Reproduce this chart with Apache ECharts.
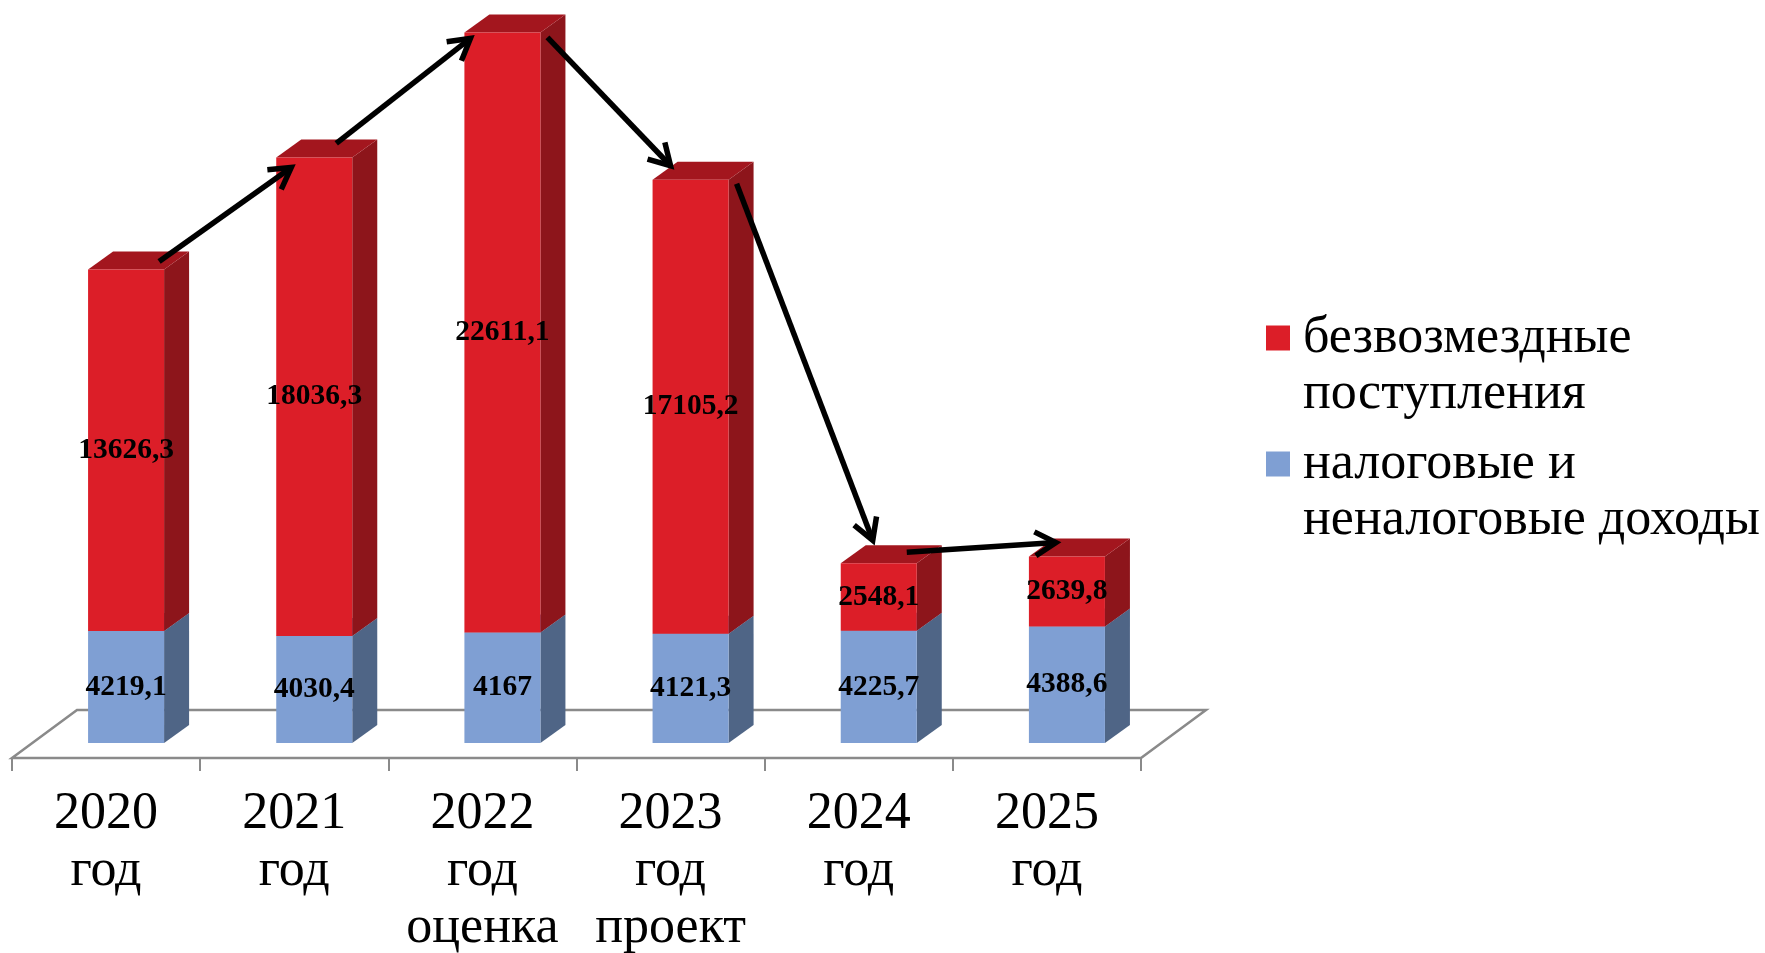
<!DOCTYPE html>
<html>
<head>
<meta charset="utf-8">
<script src="https://cdn.jsdelivr.net/npm/echarts@6/dist/echarts.min.js"></script>
<style>
html,body{margin:0;padding:0;background:#fff;}
#chart{width:1765px;height:953px;}
</style>
</head>
<body>
<div id="chart"></div>
<script>
// ---- data ----
const categories = ['2020\nгод', '2021\nгод', '2022\nгод\nоценка', '2023\nгод\nпроект', '2024\nгод', '2025\nгод'];
const taxIncome = [4219.1, 4030.4, 4167, 4121.3, 4225.7, 4388.6];   // налоговые и неналоговые доходы
const grants = [13626.3, 18036.3, 22611.1, 17105.2, 2548.1, 2639.8]; // безвозмездные поступления
const seriesNames = ['безвозмездные\nпоступления', 'налоговые и\nненалоговые доходы'];
const arrowLinks = [[0, 1], [1, 2], [2, 3], [3, 4], [4, 5]];

// ---- styles ----
const RED = {front: '#DC1E28', side: '#8D151B', top: '#A3161E'};
const BLUE = {front: '#7F9FD3', side: '#4F6586', top: '#6A86B0'};
const DEPTH = [25, -18];
const FLOOR_FRONT = [-20, 15];
const FLOOR_BACK = [45, -33];
// arrow anchor offsets (px) relative to bar top-front corners: [startOffset, endOffset]
const arrowAnchors = [
  [[-5, -8], [15, 10]],
  [[-16, -14], [6, 6]],
  [[7, 5], [18, -14]],
  [[8, 4], [32, -23]],
  [[-10, -11], [27, -14]]
];

function fmt(v) { return String(v).replace('.', ','); }

const blueData = taxIncome.map((v, i) => [i, 0, v]);
const redData = grants.map((v, i) => [i, taxIncome[i], taxIncome[i] + v]);

function barRender(colors, values) {
  return function (params, api) {
    const idx = api.value(0);
    const pb = api.coord([idx, api.value(1)]);
    const pt = api.coord([idx, api.value(2)]);
    const w = api.size([1, 0])[0] * 0.404;
    const x0 = pt[0] - w / 2, x1 = pt[0] + w / 2;
    const yb = pb[1], yt = pt[1];
    const dx = DEPTH[0], dy = DEPTH[1];
    return {
      type: 'group',
      children: [
        {type: 'polygon', shape: {points: [[x1, yb], [x1 + dx, yb + dy], [x1 + dx, yt + dy], [x1, yt]]}, style: {fill: colors.side}},
        {type: 'polygon', shape: {points: [[x0, yt], [x0 + dx, yt + dy], [x1 + dx, yt + dy], [x1, yt]]}, style: {fill: colors.top}},
        {type: 'rect', shape: {x: x0, y: yt, width: w, height: yb - yt}, style: {fill: colors.front}},
        {type: 'text', z2: 10, style: {text: fmt(values[params.dataIndex]), x: pt[0], y: (yb + yt) / 2,
          align: 'center', verticalAlign: 'middle', fill: '#000',
          font: 'bold 29.5px "Liberation Serif", "Times New Roman", serif'}}
      ]
    };
  };
}

function floorRender(params, api) {
  const band = api.size([1, 0])[0];
  const p0 = api.coord([0, 0]);
  const p1 = api.coord([categories.length - 1, 0]);
  const l = p0[0] - band / 2, r = p1[0] + band / 2, y = p0[1];
  return {
    type: 'polygon',
    shape: {points: [
      [l + FLOOR_FRONT[0], y + FLOOR_FRONT[1]], [r + FLOOR_FRONT[0], y + FLOOR_FRONT[1]],
      [r + FLOOR_BACK[0], y + FLOOR_BACK[1]], [l + FLOOR_BACK[0], y + FLOOR_BACK[1]]
    ]},
    style: {fill: '#fff', stroke: '#8a8a8a', lineWidth: 2.5}
  };
}

function arrowRender(params, api) {
  const link = arrowLinks[params.dataIndex];
  const a = link[0], b = link[1];
  const w = api.size([1, 0])[0] * 0.404;
  const ta = api.coord([a, taxIncome[a] + grants[a]]);
  const tb = api.coord([b, taxIncome[b] + grants[b]]);
  const off = arrowAnchors[params.dataIndex];
  const s = [ta[0] + w / 2 + off[0][0], ta[1] + off[0][1]];
  const e = [tb[0] - w / 2 + off[1][0], tb[1] + off[1][1]];
  const ang = Math.atan2(e[1] - s[1], e[0] - s[0]);
  const L = 24, spread = Math.PI / 6;
  const w1 = [e[0] - L * Math.cos(ang - spread), e[1] - L * Math.sin(ang - spread)];
  const w2 = [e[0] - L * Math.cos(ang + spread), e[1] - L * Math.sin(ang + spread)];
  return {
    type: 'group',
    children: [
      {type: 'line', shape: {x1: s[0], y1: s[1], x2: e[0], y2: e[1]}, style: {stroke: '#000', lineWidth: 5.5}},
      {type: 'polyline', shape: {points: [w1, e, w2]}, style: {stroke: '#000', lineWidth: 5.5, fill: null, lineJoin: 'miter'}}
    ]
  };
}

const chart = echarts.init(document.getElementById('chart'));
chart.setOption({
  backgroundColor: '#fff',
  animation: false,
  legend: {
    orient: 'vertical',
    left: 1266,
    top: 254,
    padding: 0,
    itemWidth: 24,
    itemHeight: 25,
    itemGap: -42,
    icon: 'rect',
    data: [seriesNames[0], seriesNames[1]],
    formatter: function (name) { return '\n' + name; },
    textStyle: {fontFamily: '"Liberation Serif", serif', fontSize: 52, lineHeight: 56, color: '#000', padding: [0, 0, 0, 8]}
  },
  grid: [
    {left: 32, right: 604, top: 0, bottom: 210, containLabel: false, outerBoundsMode: 'none'},
    {left: 12, right: 624, top: 100, bottom: 195, containLabel: false, outerBoundsMode: 'none'}
  ],
  xAxis: [
    {type: 'category', gridIndex: 0, data: categories, show: false},
    {type: 'category', gridIndex: 1, data: categories,
      axisLine: {show: false},
      axisTick: {show: true, length: 13, lineStyle: {color: '#8a8a8a', width: 2}},
      axisLabel: {margin: 28, color: '#000', fontFamily: '"Liberation Serif", serif', fontSize: 52, lineHeight: 57, interval: 0}
    }
  ],
  yAxis: [
    {type: 'value', gridIndex: 0, min: 0, max: 28000, show: false},
    {type: 'value', gridIndex: 1, show: false}
  ],
  series: [
    {type: 'custom', name: 'floor', data: [[0]], renderItem: floorRender, xAxisIndex: 0, yAxisIndex: 0, z: 1, silent: true},
    {type: 'custom', name: seriesNames[1], data: blueData, renderItem: barRender(BLUE, taxIncome), itemStyle: {color: BLUE.front}, z: 2},
    {type: 'custom', name: seriesNames[0], data: redData, renderItem: barRender(RED, grants), itemStyle: {color: RED.front}, z: 2},
    {type: 'custom', name: 'arrows', data: arrowLinks.map((l, i) => [i]), renderItem: arrowRender, z: 5, silent: true}
  ]
});
</script>
</body>
</html>
